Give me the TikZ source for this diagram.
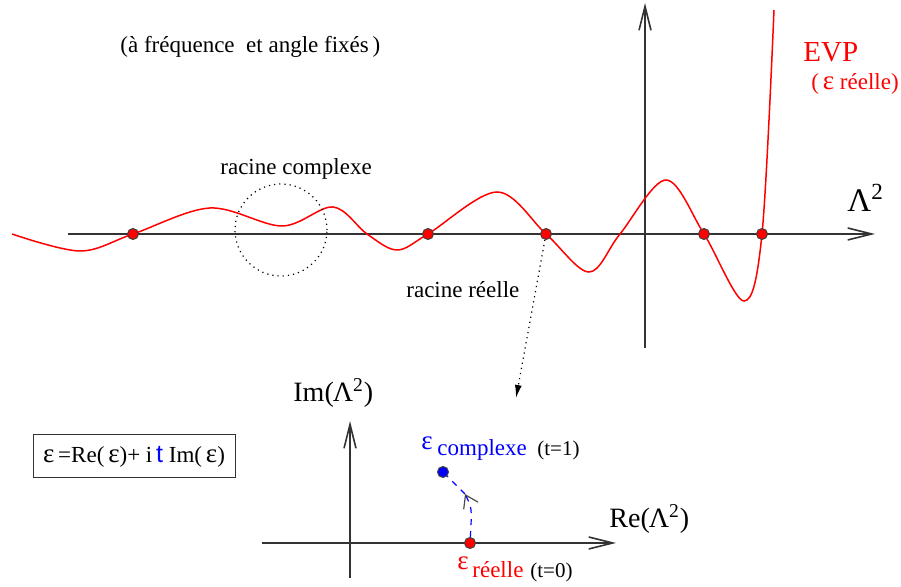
\documentclass[tikz,border=0pt]{standalone}
\usepackage{fontspec}
\setmainfont{Liberation Serif}
\setsansfont{Liberation Sans}
\usetikzlibrary{arrows.meta,positioning}

\newcommand{\epsg}{{\fontsize{13.5}{14}\selectfont ε}}

\begin{document}
\begin{tikzpicture}[
    x=0.5pt, y=-0.5pt,
    axis/.style={draw=black!80, line width=0.8pt, -{Straight Barb[length=12pt, width=6pt, line width=0.8pt]}},
    root/.style={circle, draw=black!75, fill=red, inner sep=0pt, minimum size=5.5pt, line width=0.5pt},
    lbl/.style={inner sep=0pt, anchor=base west, font=\fontsize{11.5}{13}\selectfont},
    big/.style={inner sep=0pt, anchor=base west, font=\fontsize{14.5}{16}\selectfont},
    curve/.style={red, line width=0.75pt},
    formula/.style={rectangle, draw=black!80, line width=0.5pt, minimum width=101pt, minimum height=21.5pt, inner sep=0pt, font=\fontsize{11.5}{13}\selectfont}
]
\useasboundingbox (0,0) rectangle (901,587);

% axes du haut
\coordinate (hx0) at (68,234);
\coordinate (hx1) at (875,234);
\coordinate (vy0) at (645,348);
\coordinate (vy1) at (645,3);
\draw [axis] (hx0) -- (hx1);
\draw [axis] (vy0) -- (vy1);

% courbe EVP
\draw [curve] plot [smooth, tension=0.55] coordinates {
    (12,234) (80,251) (133,234) (210,208) (282,226) (333,207) (367,234)
    (397,250) (428,234) (497,192) (546,234) (589,272) (620,234) (666,180)
    (704,234) (744,301) (762,234) (774,10)};

\foreach \x/\n in {133/r1, 428/r2, 546/r3, 704/r4, 762/r5}
    \node [root] (\n) at (\x,234) {};

\draw [dotted, line width=0.6pt] (281,230) circle [radius=23pt];

\node [lbl] (titre) at (120,53) {(à fréquence\ \ et angle fixés\,)};
\node [big, red] (evp) at (803,62) {EVP};
\node [lbl, red] (evpsub) at (811,90) {(\,\epsg{} réelle)};
\node [lbl] (rcplx) at (220,175) {racine complexe};
\node [lbl] (rreel) at (406,298) {racine réelle};
\node [lbl, font=\fontsize{16.5}{18}\selectfont] (lam) at (847,212) {Λ\textsuperscript{2}};

% lien vers le plan complexe
\coordinate (lien) at (516,398);
\draw [dotted, line width=0.6pt, -{Latex[length=6.5pt, width=3.5pt]}] (r3) -- (lien);

% axes du bas
\coordinate (bx0) at (262,543);
\coordinate (bx1) at (616,543);
\coordinate (by0) at (350,578);
\coordinate (by1) at (350,421);
\draw [axis] (bx0) -- (bx1);
\draw [axis] (by0) -- (by1);

\node [lbl, font=\fontsize{14}{16}\selectfont] (im) at (293,402) {Im(\kern-0.5ptΛ\textsuperscript{2})};
\node [lbl, font=\fontsize{14}{16}\selectfont] (re) at (609,528) {Re(\kern-0.5ptΛ\textsuperscript{2})};

\node [root] (ereel) at (470,543) {};
\node [root, fill=blue] (ecplx) at (443,472) {};
\coordinate (pointe) at (465,494);
\draw [blue, dashed, line width=0.6pt, -{Straight Barb[black!70, length=6pt, width=8pt, line width=0.6pt]}]
    (ereel) .. controls (472,508) .. (pointe);
\draw [blue, dashed, line width=0.6pt] (pointe) -- (ecplx);

\node [lbl, blue] (epsc) at (421,450) {\epsg};
\node [lbl, blue] (cplx) at (437,456) {complexe};
\node [lbl, font=\fontsize{10.5}{12}\selectfont] (t1) at (537,456) {(t=1)};
\node [lbl, red] (epsr) at (457,570) {\epsg};
\node [lbl, red] (reel) at (472,578) {réelle};
\node [lbl, font=\fontsize{10.5}{12}\selectfont] (t0) at (530,578) {(t=0)};

\node [formula] (eps) at (134,456.5) {\epsg\,=Re(\,\epsg)+ i\,{\color{blue}\sffamily\fontsize{12.5}{13}\selectfont t} Im(\,\epsg)};
\end{tikzpicture}
\end{document}
